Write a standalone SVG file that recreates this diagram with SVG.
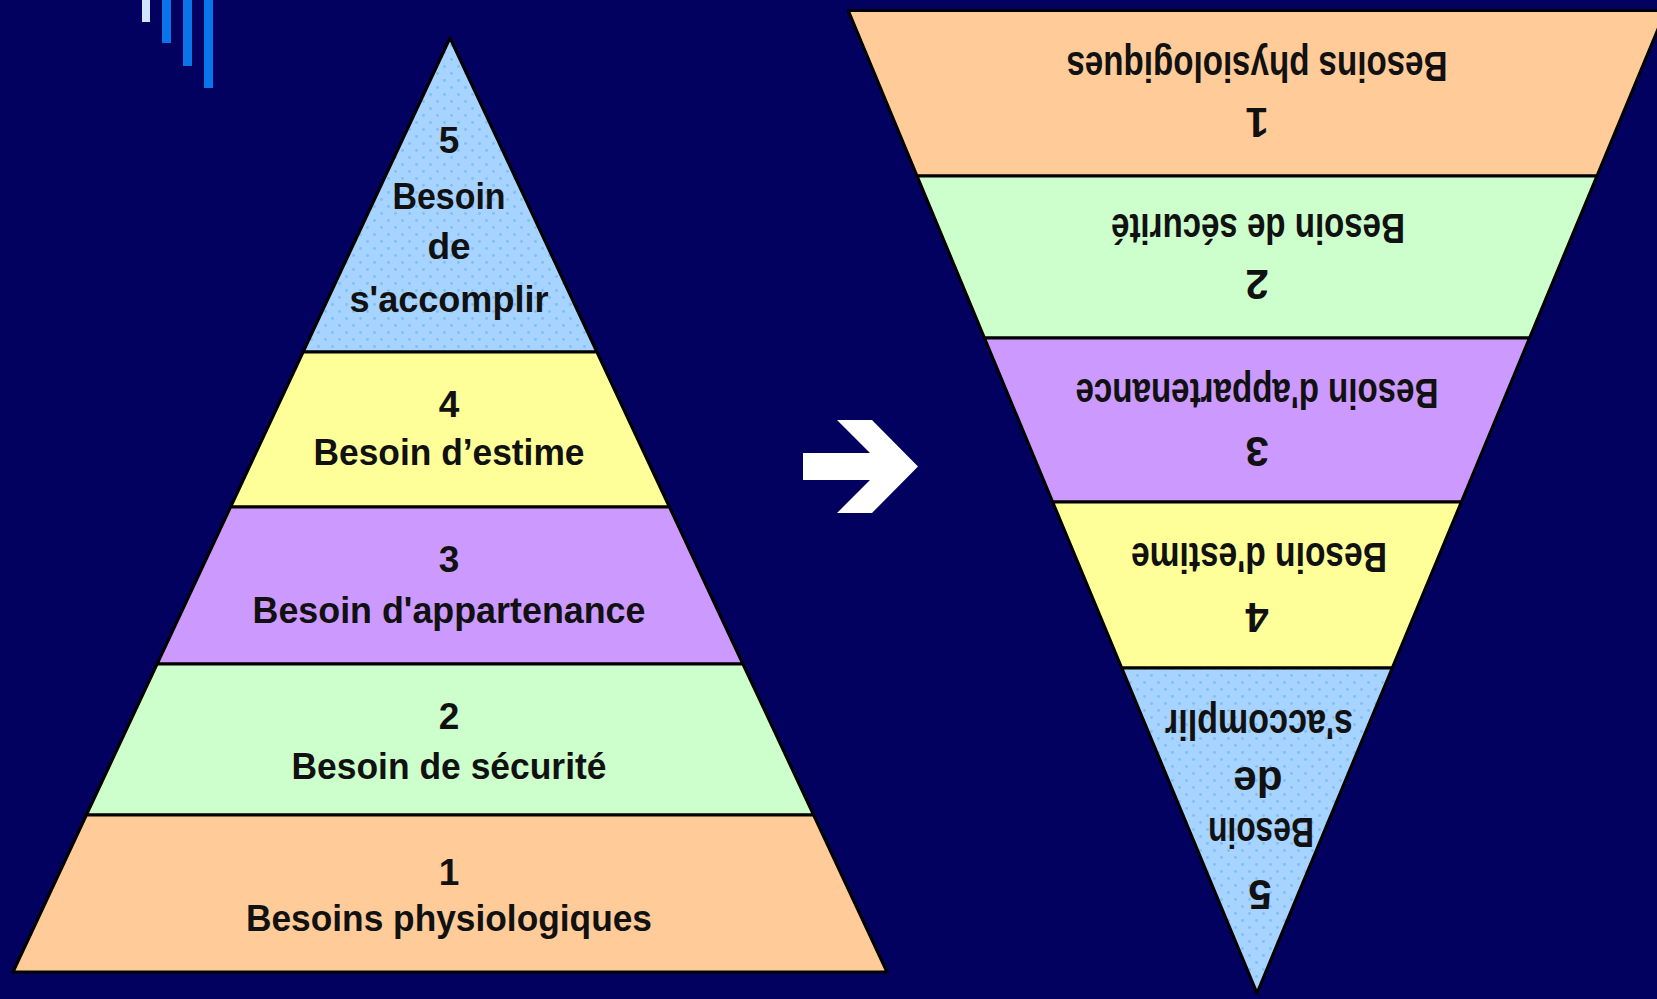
<svg xmlns="http://www.w3.org/2000/svg" width="1657" height="999" viewBox="0 0 1657 999">
<defs>
<pattern id="dots" width="14" height="14" patternUnits="userSpaceOnUse">
<rect width="14" height="14" fill="#a6d3ff"/>
<circle cx="3.5" cy="3.5" r="1.4" fill="#7fbff5"/>
<circle cx="10.5" cy="10.5" r="1.4" fill="#7fbff5"/>
</pattern>
</defs>
<style>
.band{stroke:#000;stroke-width:3;stroke-linejoin:round}
.blue{fill:url(#dots)}
.yellow{fill:#ffff99}
.purple{fill:#cc99ff}
.green{fill:#ccffcc}
.orange{fill:#ffcc99}
.t{font-family:"Liberation Sans",Arial,sans-serif;font-weight:bold;fill:#111;text-anchor:middle}
.l{font-size:37px}
.r{font-size:42px}
</style>
<rect width="1657" height="999" fill="#02015f"/>
<g id="deco">
<rect x="142" y="0" width="8" height="22" fill="#cfe6ff"/>
<rect x="162" y="0" width="9" height="43" fill="#0a74ea"/>
<rect x="183" y="0" width="9" height="66" fill="#0a74ea"/>
<rect x="204" y="0" width="9" height="88" fill="#0a74ea"/>
</g>
<g id="left-pyramid">
<g id="left-5">
<polygon class="band blue" points="450,38 596.9,352 303.1,352"/>
<text class="t l" x="449" y="153">5</text>
<text class="t l" x="449" y="209" textLength="113" lengthAdjust="spacingAndGlyphs">Besoin</text>
<text class="t l" x="449" y="259">de</text>
<text class="t l" x="449" y="312" textLength="199" lengthAdjust="spacingAndGlyphs">s'accomplir</text>
</g>
<g id="left-4">
<polygon class="band yellow" points="303.1,352 596.9,352 669.4,507 230.6,507"/>
<text class="t l" x="449" y="417">4</text>
<text class="t l" x="449" y="465" textLength="271" lengthAdjust="spacingAndGlyphs">Besoin d’estime</text>
</g>
<g id="left-3">
<polygon class="band purple" points="230.6,507 669.4,507 742.9,664 157.1,664"/>
<text class="t l" x="449" y="572">3</text>
<text class="t l" x="449" y="623" textLength="393" lengthAdjust="spacingAndGlyphs">Besoin d'appartenance</text>
</g>
<g id="left-2">
<polygon class="band green" points="157.1,664 742.9,664 813.6,815 86.4,815"/>
<text class="t l" x="449" y="729">2</text>
<text class="t l" x="449" y="779" textLength="315" lengthAdjust="spacingAndGlyphs">Besoin de sécurité</text>
</g>
<g id="left-1">
<polygon class="band orange" points="86.4,815 813.6,815 887,972 13,972"/>
<text class="t l" x="449" y="885">1</text>
<text class="t l" x="449" y="931" textLength="406" lengthAdjust="spacingAndGlyphs">Besoins physiologiques</text>
</g>
</g>
<g id="connectors">
<polygon points="803,453 870,453 837,420 872,420 918,466.5 872,513 837,513 870,480 803,480" fill="#ffffff"/>
</g>
<g id="right-pyramid">
<g id="right-1">
<polygon class="band orange" points="848.3,10.5 1665.7,10.5 1596.9,176 917.1,176"/>
<text class="t r" x="1257" y="52" transform="rotate(180 1257 52)" textLength="381" lengthAdjust="spacingAndGlyphs">Besoins physiologiques</text>
<text class="t r" x="1257" y="108" transform="rotate(180 1257 108)">1</text>
</g>
<g id="right-2">
<polygon class="band green" points="917.1,176 1596.9,176 1529.5,338 984.5,338"/>
<text class="t r" x="1258" y="214" transform="rotate(180 1258 214)" textLength="294" lengthAdjust="spacingAndGlyphs">Besoin de sécurité</text>
<text class="t r" x="1257" y="270" transform="rotate(180 1257 270)">2</text>
</g>
<g id="right-3">
<polygon class="band purple" points="984.5,338 1529.5,338 1461.3,502 1052.7,502"/>
<text class="t r" x="1257" y="379" transform="rotate(180 1257 379)" textLength="363" lengthAdjust="spacingAndGlyphs">Besoin d'appartenance</text>
<text class="t r" x="1257" y="437" transform="rotate(180 1257 437)">3</text>
</g>
<g id="right-4">
<polygon class="band yellow" points="1052.7,502 1461.3,502 1392.2,668 1121.8,668"/>
<text class="t r" x="1259" y="543" transform="rotate(180 1259 543)" textLength="256" lengthAdjust="spacingAndGlyphs">Besoin d'estime</text>
<text class="t r" x="1257" y="603" transform="rotate(180 1257 603)">4</text>
</g>
<g id="right-5">
<polygon class="band blue" points="1121.8,668 1392.2,668 1257,993"/>
<text class="t r" x="1259" y="710" transform="rotate(180 1259 710)" textLength="188" lengthAdjust="spacingAndGlyphs">s'accomplir</text>
<text class="t r" x="1258" y="767" transform="rotate(180 1258 767)">de</text>
<text class="t r" x="1261" y="818" transform="rotate(180 1261 818)" textLength="106" lengthAdjust="spacingAndGlyphs">Besoin</text>
<text class="t r" x="1260" y="880" transform="rotate(180 1260 880)">5</text>
</g>
</g>
</svg>
